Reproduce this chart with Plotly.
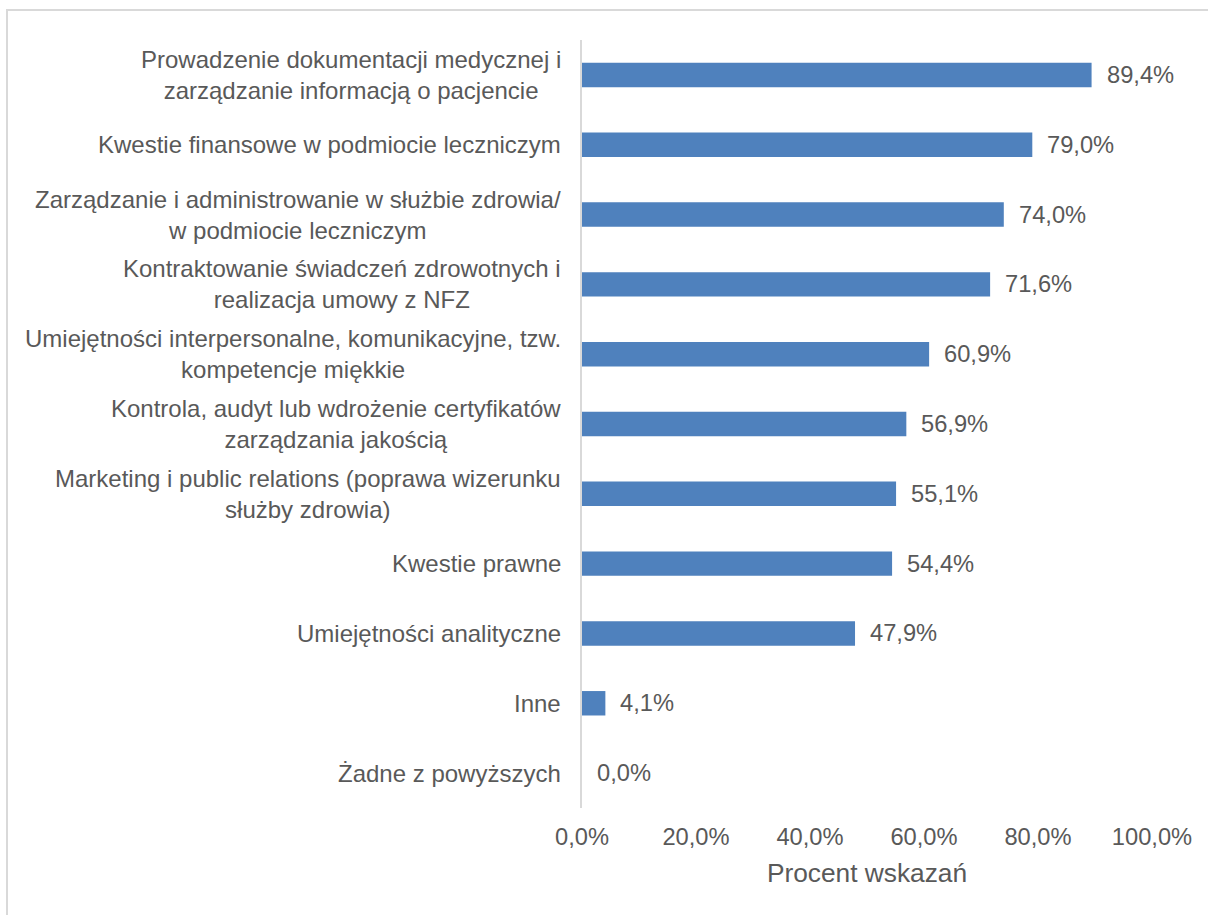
import plotly.graph_objects as go

# Survey categories (top to bottom) and share of responses in percent
categories = [
    "Prowadzenie dokumentacji medycznej i<br>zarządzanie informacją o pacjencie",
    "Kwestie finansowe w podmiocie leczniczym",
    "Zarządzanie i administrowanie w służbie zdrowia/<br>w podmiocie leczniczym",
    "Kontraktowanie świadczeń zdrowotnych i<br>realizacja umowy z NFZ",
    "Umiejętności interpersonalne, komunikacyjne, tzw.<br>kompetencje miękkie",
    "Kontrola, audyt lub wdrożenie certyfikatów<br>zarządzania jakością",
    "Marketing i public relations (poprawa wizerunku<br>służby zdrowia)",
    "Kwestie prawne",
    "Umiejętności analityczne",
    "Inne",
    "Żadne z powyższych",
]
values = [89.4, 79.0, 74.0, 71.6, 60.9, 56.9, 55.1, 54.4, 47.9, 4.1, 0.0]

tick_vals = [0, 20, 40, 60, 80, 100]
tick_text = ["0,0%", "20,0%", "40,0%", "60,0%", "80,0%", "100,0%"]

FONT = "Liberation Sans, Arial, sans-serif"
TEXT = "#595959"
BAR = "#4f81bd"
GRID = "#d9d9d9"

W, H = 1208, 915
L, R, T, B = 582, 56, 40, 107

fig = go.Figure(
    go.Bar(
        x=values,
        y=categories,
        orientation="h",
        marker=dict(color=BAR, line=dict(width=0)),
        width=0.35,
        hoverinfo="skip",
    )
)

annotations = []
# category labels, centred lines, right-aligned block next to the axis
for c in categories:
    annotations.append(dict(
        x=0, xref="paper", y=c, yref="y", text=c, showarrow=False,
        xanchor="right", yanchor="middle", align="center", xshift=-19,
        font=dict(family=FONT, size=24, color=TEXT),
    ))
# value labels at bar ends
for c, v in zip(categories, values):
    annotations.append(dict(
        x=v, xref="x", y=c, yref="y", text=f"{v:.1f}%".replace(".", ","),
        showarrow=False, xanchor="left", yanchor="middle", xshift=13,
        font=dict(family=FONT, size=23.7, color=TEXT),
    ))

pw = W - L - R
ph = H - T - B
# outer chart frame
frame = dict(
    type="rect", xref="paper", yref="paper", layer="below",
    x0=(7 - L) / pw, x1=(W + 20 - L) / pw,
    y0=-(B + 20) / ph, y1=(H - B - 10) / ph,
    line=dict(color=GRID, width=2), fillcolor="rgba(0,0,0,0)",
)

fig.update_layout(
    width=W, height=H,
    margin=dict(l=L, r=R, t=T, b=B, pad=0),
    paper_bgcolor="white", plot_bgcolor="white",
    showlegend=False,
    font=dict(family=FONT, size=23.7, color=TEXT),
    xaxis=dict(
        range=[0, 100], tickvals=tick_vals, ticktext=tick_text,
        showgrid=False, zeroline=False, showline=False,
        ticks="outside", ticklen=8, tickcolor="rgba(0,0,0,0)",
        tickfont=dict(family=FONT, size=23.7, color=TEXT),
        title=dict(text="Procent wskazań", font=dict(family=FONT, size=26.3, color=TEXT), standoff=14),
    ),
    yaxis=dict(
        categoryorder="array", categoryarray=categories, autorange="reversed",
        showticklabels=False, showgrid=False, zeroline=False,
        showline=True, linecolor=GRID, linewidth=2, ticks="",
    ),
    annotations=annotations,
    shapes=[frame],
)

fig.write_html("out.html")
